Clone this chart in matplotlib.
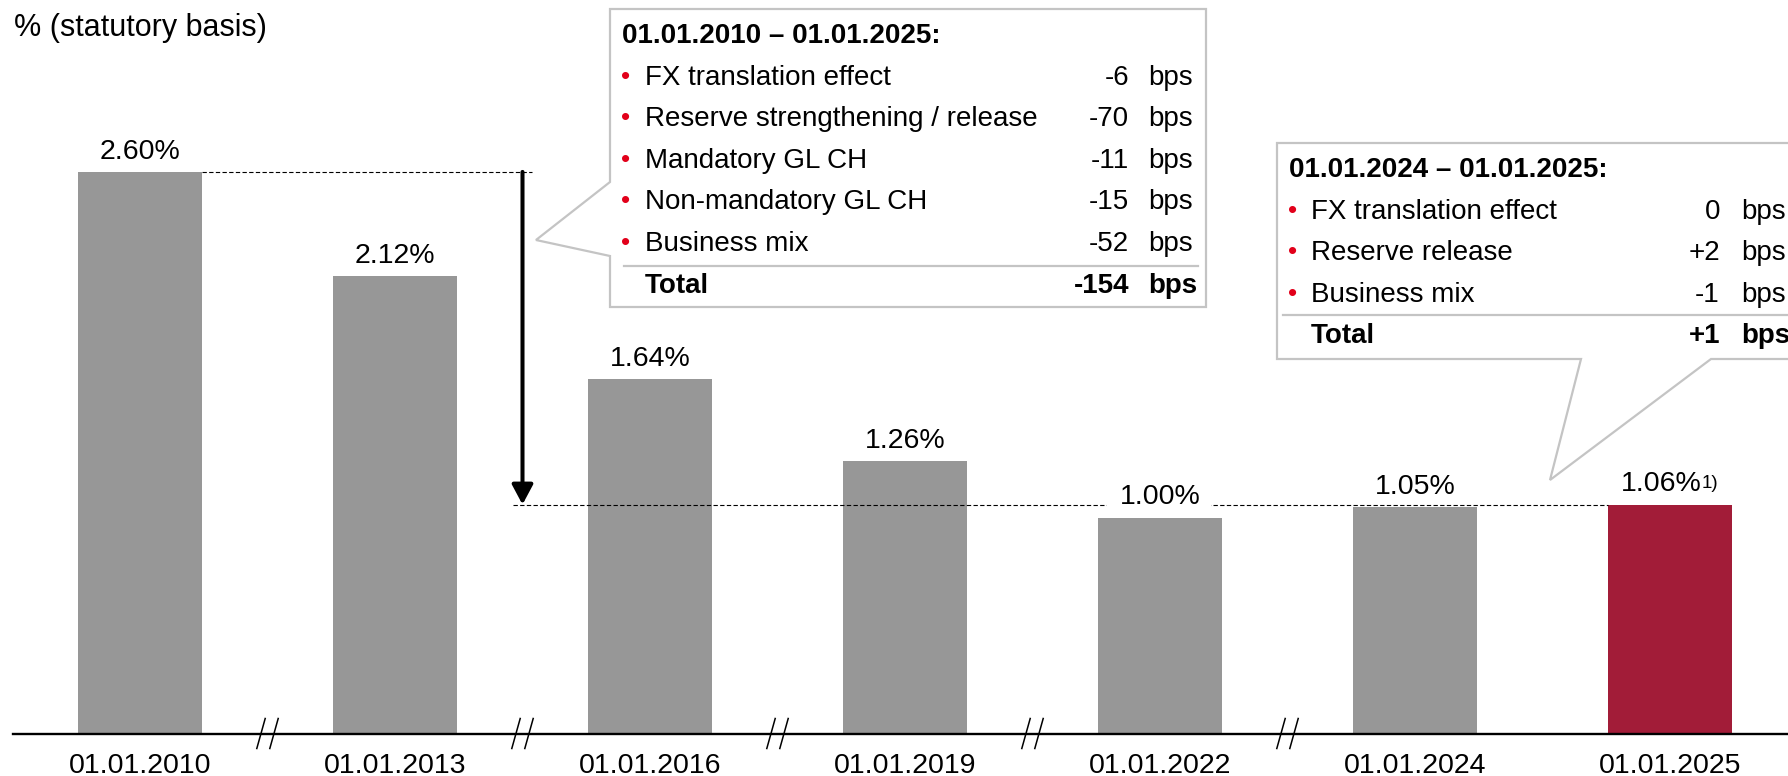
import matplotlib
matplotlib.use("Agg")
import matplotlib.pyplot as plt
from matplotlib.patches import Polygon, Rectangle
from matplotlib.lines import Line2D

plt.rcParams['font.family'] = ['Liberation Sans', 'DejaVu Sans']

# data
dates = ['01.01.2010', '01.01.2013', '01.01.2016', '01.01.2019',
         '01.01.2022', '01.01.2024', '01.01.2025']
values = [2.60, 2.12, 1.64, 1.26, 1.00, 1.05, 1.06]
value_labels = ['2.60%', '2.12%', '1.64%', '1.26%', '1.00%', '1.05%', '1.06%']
breaks_after = [0, 1, 2, 3, 4]   # axis breaks between these bars and the next

box1_title = '01.01.2010 \u2013 01.01.2025:'
box1_items = ['FX translation effect', 'Reserve strengthening / release',
              'Mandatory GL CH', 'Non-mandatory GL CH', 'Business mix']
box1_bps = ['-6', '-70', '-11', '-15', '-52']
box1_total = '-154'

box2_title = '01.01.2024 \u2013 01.01.2025:'
box2_items = ['FX translation effect', 'Reserve release', 'Business mix']
box2_bps = ['0', '+2', '-1']
box2_total = '+1'

GREY = '#979797'
RED = '#A21C38'
BULLET = '#E2001A'
EDGE = '#C4C4C4'

W, H = 1788, 776
fig = plt.figure(figsize=(W / 100, H / 100), dpi=100)
ax = fig.add_axes([0, 0, 1, 1])

# pixel layout of the data area
x0_px, step_px, base_px, unit_px = 140, 255, 733.5, 216
ax.set_xlim(-x0_px / step_px, (W - x0_px) / step_px)
ax.set_ylim(-(H - base_px) / unit_px, base_px / unit_px)
dx = 1 / step_px   # one pixel in x data units
dy = 1 / unit_px   # one pixel in y data units

x = list(range(len(values)))
colors = [GREY] * (len(values) - 1) + [RED]
bw = 0.49
ax.bar(x, values, width=bw, color=colors, zorder=2)

# value labels
for i, (v, lab) in enumerate(zip(values, value_labels)):
    if i == len(values) - 1:
        ax.annotate(lab, (i, v), xytext=(23.0, 9.4), textcoords='offset points',
                    ha='right', va='baseline', fontsize=20.5, zorder=5)
        ax.annotate('1)', (i, v), xytext=(22.6, 12.0), textcoords='offset points',
                    ha='left', va='baseline', fontsize=13.5, zorder=5)
        continue
    ax.annotate(lab, (i, v), xytext=(0, 9.4), textcoords='offset points',
                ha='center', va='baseline', fontsize=20.5, zorder=5)

# reference lines and arrow
arrow_x = 1.5
dash = dict(color='black', lw=0.8, linestyle=(0, (3.9, 2.1)), zorder=3)
ax.hlines(values[0], bw / 2, arrow_x + 9 * dx, **dash)
ax.hlines(values[-1], arrow_x - 10 * dx, x[-1] - bw / 2, **dash)
# gap in the dashed line behind the 01.01.2022 label
ax.add_patch(Rectangle((4 - 53 * dx, values[-1] - 3 * dy), 104 * dx, 6 * dy,
                       fc='white', ec='none', zorder=3.5))
ax.annotate('', xy=(arrow_x, values[-1]), xytext=(arrow_x, values[0]),
            arrowprops=dict(arrowstyle='-|>,head_width=0.32,head_length=0.6',
                            mutation_scale=20, lw=2.9, color='black',
                            shrinkA=0, shrinkB=0), zorder=4)

# axis
for s in ['top', 'left', 'right']:
    ax.spines[s].set_visible(False)
ax.spines['bottom'].set_position(('data', 0))
ax.spines['bottom'].set_linewidth(1.7)
ax.spines['bottom'].set_bounds((13 - x0_px) / step_px, ax.get_xlim()[1])
ax.set_xticks(x, dates, fontsize=20.5)
ax.tick_params(axis='x', length=0, pad=14)
ax.set_yticks([])

# axis break marks
for b in breaks_after:
    xc = b + 0.5
    for off in (-6.5, 6.5):
        ax.add_line(Line2D([xc + (off - 4.2) * dx, xc + (off + 4.2) * dx],
                           [-15 * dy, 15 * dy], color='black', lw=1.1, zorder=6))

# subtitle
def fp(px, py):
    return px / W, 1 - py / H

fig.text(*fp(14, 36), '% (statutory basis)', fontsize=22, va='baseline')

# callout boxes
def callout(pts):
    poly = Polygon([fp(*p) for p in pts], closed=True, transform=fig.transFigure,
                   fc='white', ec=EDGE, lw=1.6, zorder=10)
    fig.patches.append(poly)

callout([(610, 9), (1206, 9), (1206, 307), (610, 307), (610, 256),
         (536, 240), (610, 182)])
callout([(1277, 143), (1810, 143), (1810, 359), (1711, 359), (1550, 480),
         (1581, 359), (1277, 359)])

def box_text(title, items, bps, total, left, bullet_x, text_x, num_x, bps_x,
             title_y, sep_y, sep_x, row_h):
    fig.text(*fp(left, title_y), title, fontsize=20, fontweight='bold',
             va='baseline', zorder=11)
    for k, (it, b) in enumerate(zip(items, bps)):
        yy = title_y + row_h * (k + 1)
        fig.text(*fp(bullet_x, yy - 1), '\u2022', color=BULLET, fontsize=19,
                 ha='center', va='baseline', zorder=11)
        fig.text(*fp(text_x, yy), it, fontsize=20, va='baseline', zorder=11)
        fig.text(*fp(num_x, yy), b, fontsize=20, ha='right', va='baseline', zorder=11)
        fig.text(*fp(bps_x, yy), 'bps', fontsize=20, va='baseline', zorder=11)
    yy = title_y + row_h * (len(items) + 1)
    fig.lines.append(Line2D([fp(sep_x[0], 0)[0], fp(sep_x[1], 0)[0]],
                            [fp(0, sep_y)[1]] * 2, transform=fig.transFigure,
                            color=EDGE, lw=1.6, zorder=11))
    fig.text(*fp(text_x, yy), 'Total', fontsize=20, fontweight='bold',
             va='baseline', zorder=11)
    fig.text(*fp(num_x, yy), total, fontsize=20, fontweight='bold', ha='right',
             va='baseline', zorder=11)
    fig.text(*fp(bps_x, yy), 'bps', fontsize=20, fontweight='bold',
             va='baseline', zorder=11)

box_text(box1_title, box1_items, box1_bps, box1_total, 622, 625.5, 645,
         1129, 1148, 43, 266, (624, 1198), 41.6)
box_text(box2_title, box2_items, box2_bps, box2_total, 1289, 1293, 1311,
         1720, 1741, 177, 315, (1283, 1800), 41.6)

fig.savefig('out.png', dpi=100)
